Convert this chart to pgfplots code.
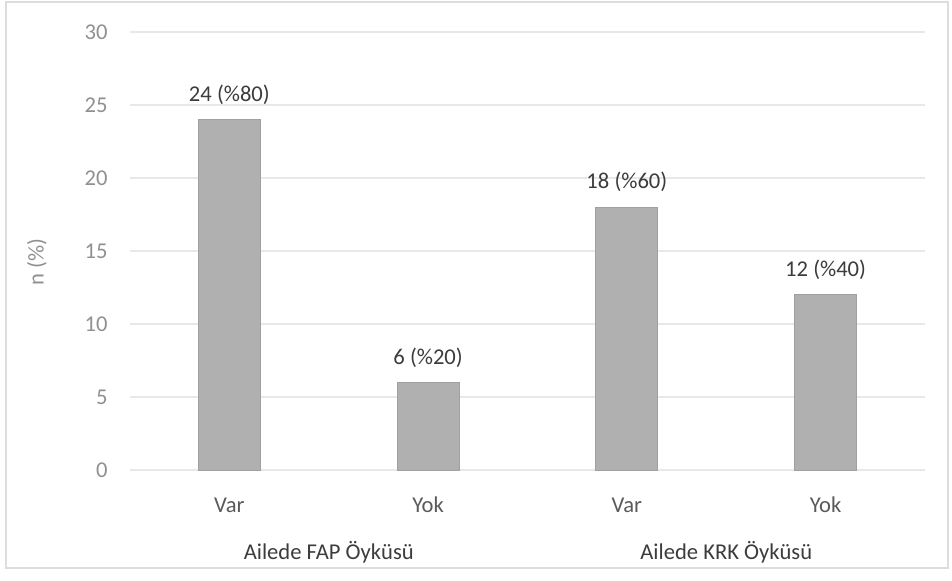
\documentclass[border=0pt]{standalone}
\usepackage{pgfplots}
\pgfplotsset{compat=1.18}
\usepackage{pgfplotstable}
\usepackage{fontspec}
\setmainfont{Carlito}

\definecolor{barfill}{HTML}{B0B0B0}
\definecolor{baredge}{HTML}{A0A0A0}
\definecolor{gridcol}{HTML}{E8E8E8}
\definecolor{framecol}{HTML}{DDDDDD}
\definecolor{tickcol}{HTML}{909090}
\definecolor{catcol}{HTML}{5A5A5A}
\definecolor{labcol}{HTML}{3C3C3C}

% n per category, with the label written above each bar
\pgfplotstableread{
x n lab
0 24 {24 (\%80)}
1 6  {6 (\%20)}
2 18 {18 (\%60)}
3 12 {12 (\%40)}
}\aileleveri

\begin{document}
\begin{tikzpicture}[font=\fontsize{11.3bp}{13.5bp}\selectfont]
\useasboundingbox (0,0) rectangle (476bp,290.5bp);
\draw[framecol, line width=0.6bp] (3bp,6.5bp) rectangle (474bp,289.5bp);
\begin{axis}[
  at={(65bp,55.5bp)}, anchor=south west,
  scale only axis, width=397.5bp, height=219bp,
  xmin=-0.5, xmax=3.5, ymin=0, ymax=30,
  ytick={0,5,...,30},
  xtick={0,1,2,3}, xticklabels={Var,Yok,Var,Yok},
  axis line style={draw=none},
  major tick length=0pt,
  ymajorgrids, grid style={gridcol, line width=0.6bp},
  /pgf/number format/assume math mode=true,
  yticklabel style={text=tickcol, anchor=east, xshift=-7.7bp},
  xticklabel style={text=catcol, anchor=center, yshift=-17.5bp},
  clip=false,
]
\addplot[ybar, bar width=31bp, fill=barfill, draw=baredge, line width=0.4bp,
  point meta=explicit symbolic,
  nodes near coords,
  nodes near coords style={text=labcol, anchor=center, yshift=12.5bp},
] table[x=x, y=n, meta=lab] {\aileleveri};
\node[text=labcol] at ([yshift=-41bp]axis cs:0.5,0) {Ailede FAP Öyküsü};
\node[text=labcol] at ([yshift=-41bp]axis cs:2.5,0) {Ailede KRK Öyküsü};
\end{axis}
\node[rotate=90, text=tickcol] at (18.5bp,159.5bp) {n (\%)};
\end{tikzpicture}
\end{document}
